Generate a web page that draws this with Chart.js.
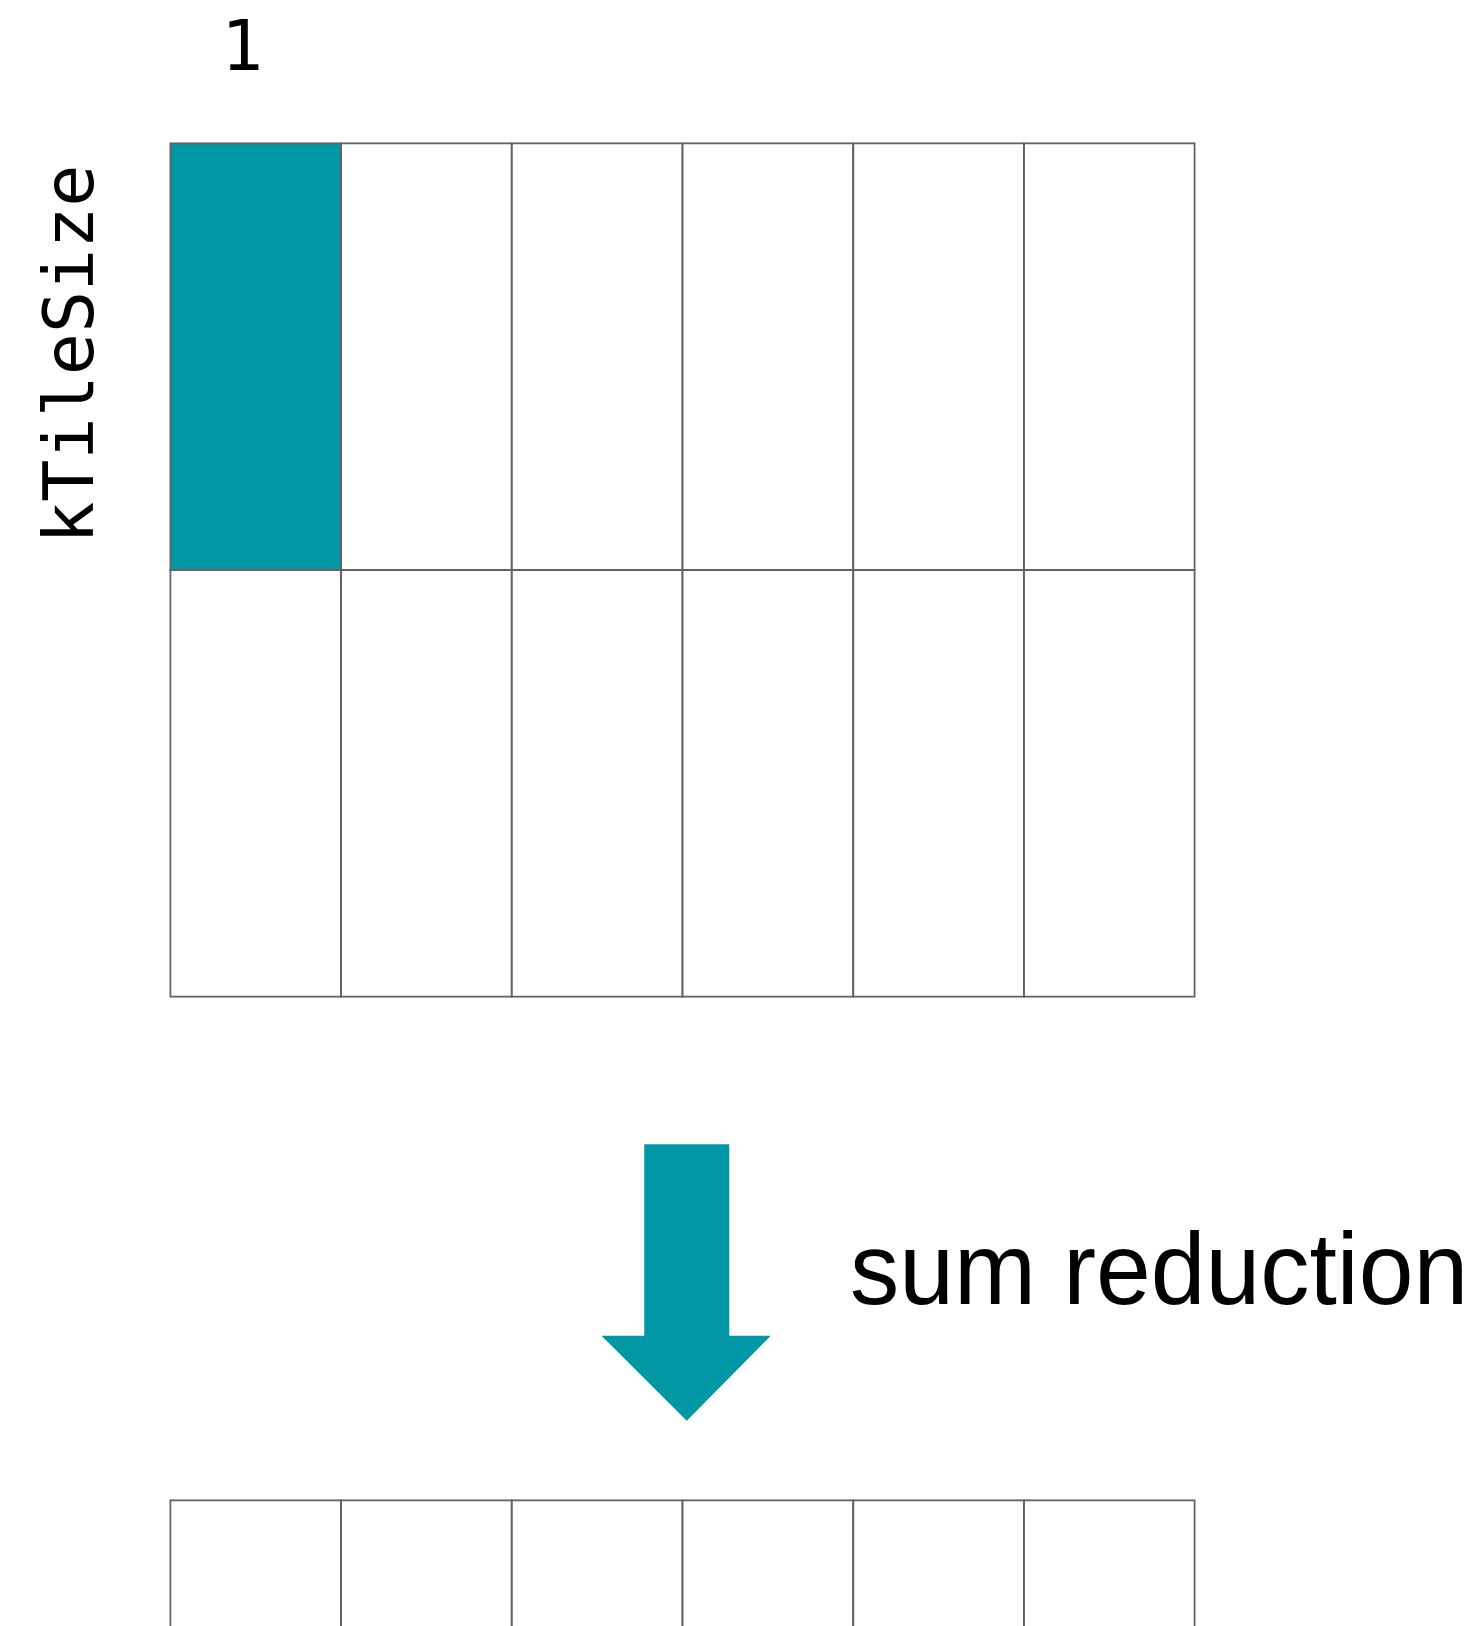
<!DOCTYPE html>
<html>
<head>
<meta charset="utf-8">
<script src="https://cdn.jsdelivr.net/npm/chart.js@4.4.1/dist/chart.umd.min.js"></script>
<style>
  html, body { margin: 0; padding: 0; background: #fff; }
  canvas { display: block; }
</style>
</head>
<body>
<canvas id="tileChart" width="1475" height="1626"></canvas>
<script>
// six tile columns across the block
const tileColumns = ['c0', 'c1', 'c2', 'c3', 'c4', 'c5'];
// input rows, [start, end] in row units
const inputRowSpans = [[0, 1], [1, 2]];
const highlightRow = 0;
const highlightColumn = 0;
// reduced output row, runs off the bottom of the page
const outputRowSpan = [3.18, 3.6];
// arrow outline: x in column units (column centre = index), y in row units
const arrowX = [2.276, 2.774, 2.774, 3.017, 2.525, 2.026, 2.276, 2.276];
const arrowY = [2.346, 2.346, 2.795, 2.795, 2.994, 2.795, 2.795, 2.346];

const colLabel = '1';
const rowLabel = 'kTileSize';
const reductionLabel = 'sum reduction';

const TEAL = '#0098a6';
const EDGE = '#636363';

const cellStyle = {
    type: 'bar',
    borderColor: EDGE,
    borderWidth: 2,
    borderSkipped: false,
    inflateAmount: 1,
    barPercentage: 1,
    categoryPercentage: 1,
    grouped: false,
    clip: false
};

const datasets = inputRowSpans.map((span, r) => ({
    ...cellStyle,
    data: tileColumns.map(() => span),
    backgroundColor: tileColumns.map((c, i) =>
        (r === highlightRow && i === highlightColumn) ? TEAL : '#ffffff')
}));

datasets.push({
    ...cellStyle,
    data: tileColumns.map(() => outputRowSpan),
    backgroundColor: '#ffffff'
});

datasets.push({
    type: 'line',
    xAxisID: 'x2',
    data: arrowX.map((x, i) => ({ x: x, y: arrowY[i] })),
    backgroundColor: TEAL,
    borderColor: 'rgba(0,0,0,0)',
    borderWidth: 0,
    pointRadius: 0,
    tension: 0,
    fill: 'shape',
    clip: false
});

// text labels placed through the same scales
const labelPlugin = {
    id: 'tileLabels',
    afterDatasetsDraw(chart) {
        const ctx = chart.ctx;
        const xs = chart.scales.x2;
        const ys = chart.scales.y;

        ctx.save();
        ctx.fillStyle = '#000';
        ctx.font = '70px "DejaVu Sans Mono", monospace';
        ctx.textAlign = 'center';
        ctx.textBaseline = 'alphabetic';
        ctx.fillText(colLabel, xs.getPixelForValue(-0.08), ys.getPixelForValue(-0.171));

        ctx.translate(xs.getPixelForValue(-0.953), ys.getPixelForValue(0.494));
        ctx.rotate(-Math.PI / 2);
        ctx.fillText(rowLabel, 0, 0);
        ctx.restore();

        ctx.save();
        ctx.fillStyle = '#000';
        ctx.font = '102px "Liberation Sans", Arial, sans-serif';
        ctx.textAlign = 'left';
        ctx.textBaseline = 'alphabetic';
        ctx.translate(xs.getPixelForValue(3.481), ys.getPixelForValue(2.7213));
        ctx.scale(0.965, 1);
        ctx.fillText(reductionLabel, 0, 0);
        ctx.restore();
    }
};

new Chart(document.getElementById('tileChart'), {
    type: 'bar',
    data: {
        labels: tileColumns,
        datasets: datasets
    },
    options: {
        responsive: false,
        animation: false,
        devicePixelRatio: 1,
        events: [],
        layout: {
            padding: { left: 170.3, right: 280.3, top: 0, bottom: 0 }
        },
        plugins: {
            legend: { display: false },
            tooltip: { enabled: false }
        },
        scales: {
            x: { type: 'category', display: false, offset: true },
            x2: { type: 'linear', display: false, offset: false, min: -0.5, max: 5.5 },
            y: { type: 'linear', display: false, reverse: true, min: -0.336, max: 3.475 }
        }
    },
    plugins: [labelPlugin]
});
</script>
</body>
</html>
